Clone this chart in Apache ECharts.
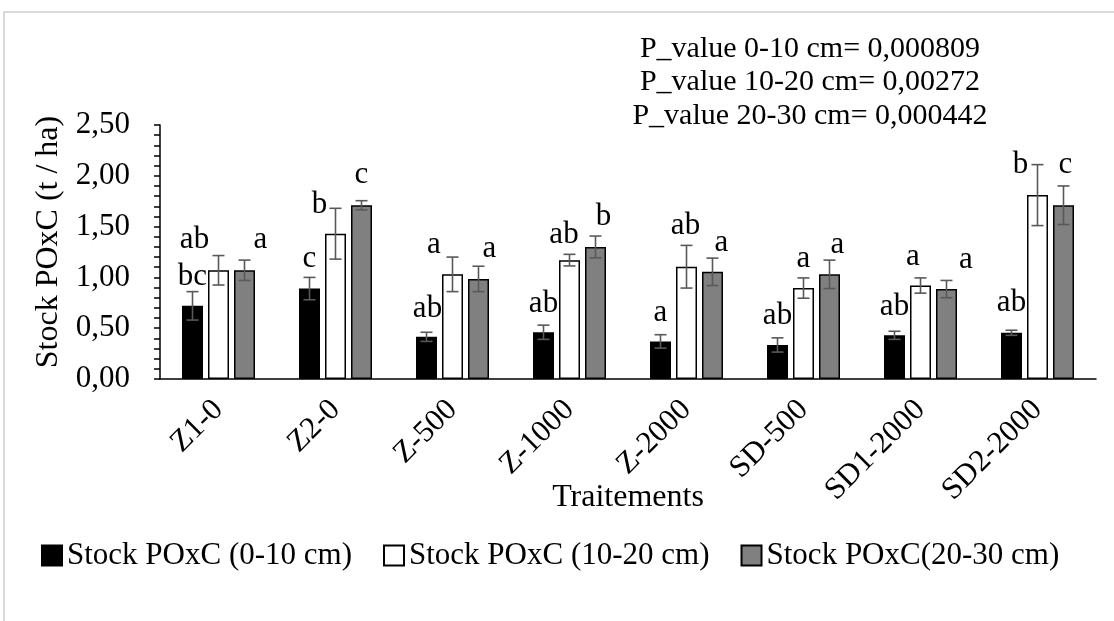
<!DOCTYPE html>
<html>
<head>
<meta charset="utf-8">
<script src="https://cdn.jsdelivr.net/npm/echarts@6/dist/echarts.min.js"></script>
<style>
html,body{margin:0;padding:0;background:#fff;}
#chart{width:1114px;height:621px;}
</style>
</head>
<body>
<div id="chart"></div>
<script>
// ---- data ----
const categories = ['Z1-0','Z2-0','Z-500','Z-1000','Z-2000','SD-500','SD1-2000','SD2-2000'];
const seriesNames = ['Stock POxC (0-10 cm)','Stock POxC (10-20 cm)','Stock POxC(20-30 cm)'];
const stock0_10  = [0.72, 0.89, 0.415, 0.46, 0.37, 0.335, 0.43, 0.455];
const stock10_20 = [1.07, 1.43, 1.03, 1.17, 1.105, 0.895, 0.92, 1.81];
const stock20_30 = [1.07, 1.71, 0.985, 1.30, 1.055, 1.03, 0.885, 1.71];
const err0_10  = [0.14, 0.11, 0.045, 0.07, 0.066, 0.07, 0.04, 0.025];
const err10_20 = [0.145, 0.25, 0.17, 0.057, 0.21, 0.10, 0.075, 0.30];
const err20_30 = [0.10, 0.045, 0.125, 0.107, 0.135, 0.14, 0.085, 0.19];
const letters0_10  = ['bc','c','ab','ab','a','ab','ab','ab'];
const letters10_20 = ['ab','b','a','ab','ab','a','a','b'];
const letters20_30 = ['a','c','a','b','a','a','a','c'];
const yTickLabels = ['0,00','0,50','1,00','1,50','2,00','2,50'];
const pValueLines = ['P_value 0-10 cm= 0,000809','P_value 10-20 cm= 0,00272','P_value 20-30 cm= 0,000442'];
const yAxisTitle = 'Stock POxC (t / ha)';
const xAxisTitle = 'Traitements';

// ---- style (label nudges, px) ----
const labelNudge = [
  [[0,-8],[0,-9],[1,-7.5],[0,-8],[0,-8.5],[0,-9],[0,-8],[0,-9]],
  [[-24,-9.5],[-16,-8],[-18.5,-8.5],[-5.5,-5],[-1,-20],[0,-9],[-7.5,-8.5],[-17,-10]],
  [[16,-10],[0,-10],[11,-10],[8,-10],[9,-8],[8,-8.5],[19.5,-8.5],[2,-20]]
];
const FONT = 'Liberation Serif, Times New Roman, serif';
const FS = 31;
const barW = 21, barGapPx = 5;
const colors = ['#000000','#ffffff','#808080'];
const values = [stock0_10, stock10_20, stock20_30];
const errors = [err0_10, err10_20, err20_30];
const letters = [letters0_10, letters10_20, letters20_30];

const barSeries = values.map((vals, s) => ({
  name: seriesNames[s],
  type: 'bar',
  barWidth: barW,
  barGap: (barGapPx / barW * 100) + '%',
  itemStyle: { color: colors[s], borderColor: '#000', borderWidth: 1.5 },
  label: {
    show: true, position: 'top', distance: 5,
    fontFamily: FONT, fontSize: FS, color: '#000',
    formatter: p => letters[s][p.dataIndex]
  },
  data: vals.map((v, i) => ({ value: v, label: { offset: labelNudge[s][i] } })),
  z: 2
}));

const errSeries = values.map((vals, s) => ({
  type: 'custom',
  z: 5,
  silent: true,
  renderItem: function (params, api) {
    const x = api.value(0), v = api.value(1), e = api.value(2);
    const shift = (s - 1) * (barW + barGapPx);
    const top = api.coord([x, v + e]);
    const bot = api.coord([x, v - e]);
    const cx = top[0] + shift;
    const cap = 6;
    const st = { stroke: '#595959', lineWidth: 1.6 };
    return {
      type: 'group',
      children: [
        { type: 'line', shape: { x1: cx, y1: top[1], x2: cx, y2: bot[1] }, style: st },
        { type: 'line', shape: { x1: cx - cap, y1: top[1], x2: cx + cap, y2: top[1] }, style: st },
        { type: 'line', shape: { x1: cx - cap, y1: bot[1], x2: cx + cap, y2: bot[1] }, style: st }
      ]
    };
  },
  data: vals.map((v, i) => [i, v, errors[s][i]])
}));

const chart = echarts.init(document.getElementById('chart'), null, { renderer: 'canvas' });
chart.setOption({
  animation: false,
  backgroundColor: '#fff',
  textStyle: { fontFamily: FONT, color: '#000' },
  graphic: [
    { type: 'rect', shape: { x: 4, y: 12, width: 1200, height: 700 },
      style: { fill: 'none', stroke: '#d9d9d9', lineWidth: 2 }, silent: true, z: 0 },
    { type: 'text', x: 810, y: 32,
      style: { text: pValueLines.join('\n'), fontFamily: FONT, fontSize: 30, lineHeight: 33.5,
               fill: '#000', textAlign: 'center', textVerticalAlign: 'top' } }
  ],
  grid: { left: 160, right: 18, top: 125, bottom: 242, containLabel: false },
  legend: {
    data: seriesNames.map(n => ({ name: n, icon: 'rect' })),
    left: 36, top: 535, itemWidth: 20, itemHeight: 20, itemGap: 31,
    textStyle: { fontFamily: FONT, fontSize: FS, color: '#000' },
    selectedMode: false
  },
  xAxis: {
    type: 'category',
    data: categories,
    name: xAxisTitle, nameLocation: 'middle', nameGap: 103, nameMoveOverlap: false,
    nameTextStyle: { fontFamily: FONT, fontSize: 32, color: '#000' },
    axisLine: { lineStyle: { color: '#000', width: 1.5 } },
    axisTick: { show: false },
    axisLabel: { rotate: 45, margin: 26, fontFamily: FONT, fontSize: FS, color: '#000', interval: 0 }
  },
  yAxis: {
    type: 'value', min: 0, max: 2.5, interval: 0.5,
    name: yAxisTitle, nameLocation: 'middle', nameRotate: 90, nameGap: 86,
    nameTextStyle: { fontFamily: FONT, fontSize: 32, color: '#000', padding: [0, 0, 0, 20] },
    axisLine: { show: true, lineStyle: { color: '#000', width: 1.5 } },
    axisTick: { show: true, length: 6, lineStyle: { color: '#000', width: 1.5 } },
    minorTick: { show: true, splitNumber: 5, length: 6, lineStyle: { color: '#000', width: 1.5 } },
    splitLine: { show: false },
    axisLabel: { margin: 30, fontFamily: FONT, fontSize: FS, color: '#000',
                 formatter: v => yTickLabels[Math.round(v / 0.5)] }
  },
  series: barSeries.concat(errSeries)
});
</script>
</body>
</html>
